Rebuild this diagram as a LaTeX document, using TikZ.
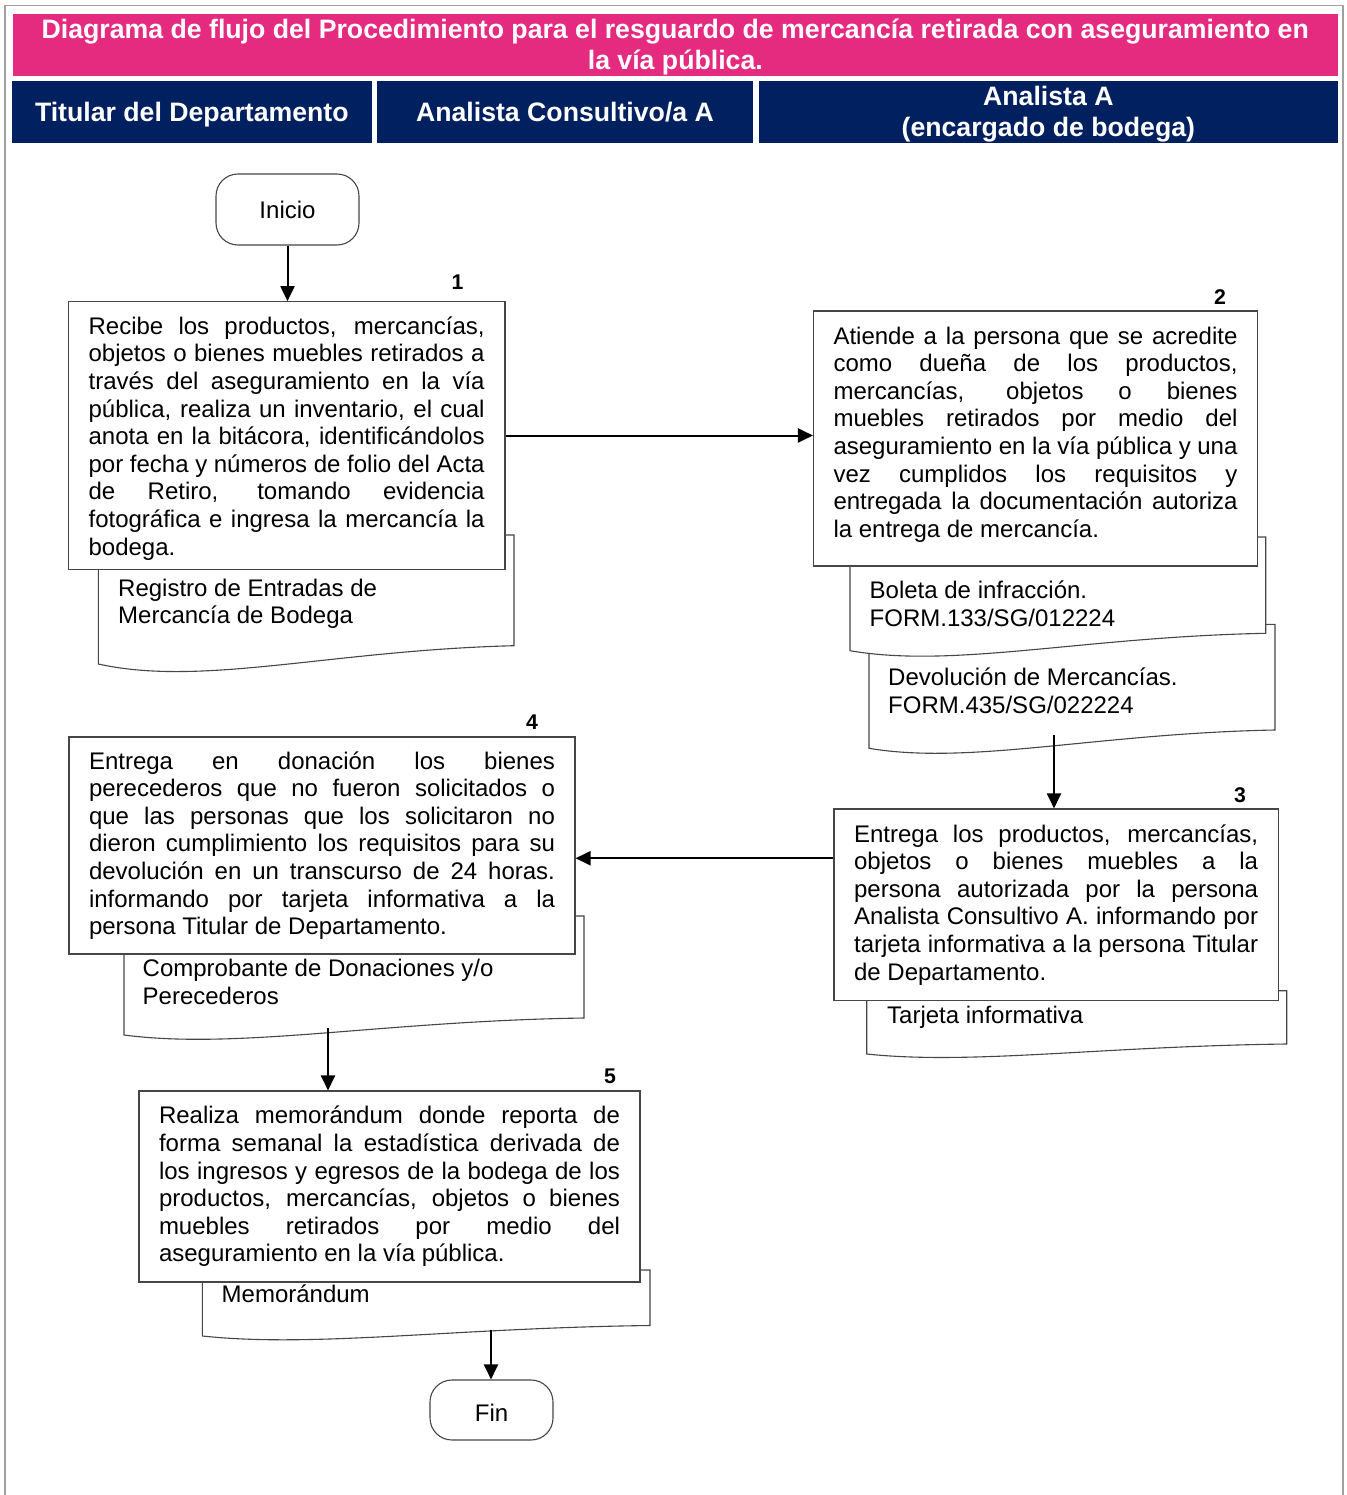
\documentclass[tikz,border=0pt]{standalone}
\usepackage{fontspec}
\setmainfont{Liberation Sans}
\usetikzlibrary{arrows.meta}
\definecolor{titlepink}{RGB}{229,43,128}
\definecolor{lanenavy}{RGB}{0,32,96}
\definecolor{framegray}{RGB}{160,160,160}
\definecolor{edgegray}{RGB}{70,70,70}
\newcommand{\bodyfont}{\fontsize{24}{27.6}\selectfont}
\newcommand{\headfont}{\fontsize{26.67}{30.7}\selectfont\bfseries}
\newcommand{\numfont}{\fontsize{21.3}{24.5}\selectfont\bfseries}
\tolerance=10000
\hyphenpenalty=10000
\exhyphenpenalty=10000
\hbadness=10000
% document symbol: x0, top, x1, right bottom, left bottom, dip of the wave
\newcommand{\docshape}[6]{%
  \filldraw[docline] (#1,#2) -- (#3,#2) -- (#3,#4)
    .. controls ({#1+0.56*(#3-#1)},{#4+0.6*#6}) and ({#1+0.25*(#3-#1)},{#5+3*#6}) .. (#1,#5) -- cycle;}
\begin{document}
\begin{tikzpicture}[x=1pt,y=-1pt,
  stepbox/.style={draw=edgegray, line width=1.1pt, fill=white, rectangle,
    inner xsep=20pt, inner ysep=0pt, align=justify, font=\bodyfont},
  doctext/.style={anchor=north west, inner sep=0pt, align=left, font=\bodyfont},
  docline/.style={draw=edgegray, line width=1.1pt, fill=white},
  terminal/.style={draw=edgegray, line width=1.1pt, fill=white, rectangle,
    rounded corners=22pt, inner sep=0pt, font=\bodyfont},
  numlabel/.style={inner sep=0pt, font=\numfont},
  titlebar/.style={fill=titlepink, inner sep=0pt},
  lanehead/.style={fill=lanenavy, inner sep=0pt},
  headtext/.style={text=white, inner sep=0pt, align=center, font=\headfont},
  flow/.style={line width=2pt, -{Triangle[length=15pt,width=14pt]}}
]
\useasboundingbox (0,0) rectangle (1346,1495);

% outer frame
\draw[framegray, line width=1.6pt] (4.8,1495) -- (4.8,5.6) -- (1343.2,5.6) -- (1343.2,1495);

% title and swimlane headers
\node[titlebar, minimum width=1325pt, minimum height=62pt] (title) at (675.3,45) {};
\node[headtext, anchor=north] (titletext) at (675.3,17)
  {\strut Diagrama de flujo del Procedimiento para el resguardo de mercancía retirada con aseguramiento en\\la vía pública.};
\node[lanehead, minimum width=359.7pt, minimum height=61.7pt] (lane1) at (191.85,111.85) {};
\node[lanehead, minimum width=376pt, minimum height=61.7pt] (lane2) at (565,111.85) {};
\node[lanehead, minimum width=578.7pt, minimum height=61.7pt] (lane3) at (1048.35,111.85) {};
\node[headtext, anchor=base] (lane1text) at (191.85,121.5) {Titular del Departamento};
\node[headtext, anchor=base] (lane2text) at (565,121.5) {Analista Consultivo/a A};
\node[headtext, anchor=north] (lane3text) at (1048.35,84) {\strut Analista A\\(encargado de bodega)};

% documents behind the process boxes
\docshape{98.3}{535}{514}{645.7}{664}{7.7}
\docshape{869}{624.3}{1275}{730}{748.3}{5.7}
\docshape{850}{537}{1265.7}{633.3}{650.7}{6}
\docshape{866.7}{990.7}{1286.7}{1044}{1054}{3.7}
\docshape{124}{916}{584}{1018}{1035}{5}
\docshape{202.4}{1270}{650}{1325.5}{1336}{4}

% terminals
\node[terminal, minimum width=143pt, minimum height=71pt] (inicio) at (287.5,209.5) {Inicio};
\node[terminal, minimum width=123pt, minimum height=60pt, text height=23pt, text depth=0pt] (fin) at (491.5,1410) {Fin};

% process steps
\node[stepbox, minimum width=436.7pt, minimum height=267.6pt, text width=396pt] (box1) at (286.6,435.5)
  {\rule{0pt}{23.5pt}Recibe los productos, mercancías,\linebreak
   objetos o bienes muebles retirados a\linebreak
   través del aseguramiento en la vía\linebreak
   pública, realiza un inventario, el cual\linebreak
   anota en la bitácora, identificándolos\linebreak
   por fecha y números de folio del Acta\linebreak
   de Retiro, tomando evidencia\linebreak
   fotográfica e ingresa la mercancía la\linebreak
   bodega.};
\node[stepbox, minimum width=443pt, minimum height=255pt, text width=404pt] (box2) at (1035.5,438.5)
  {Atiende a la persona que se acredite\linebreak
   como dueña de los productos,\linebreak
   mercancías, objetos o bienes\linebreak
   muebles retirados por medio del\linebreak
   aseguramiento en la vía pública y una\linebreak
   vez cumplidos los requisitos y\linebreak
   entregada la documentación autoriza\linebreak
   la entrega de mercancía.\rule[-13pt]{0pt}{0pt}};
\node[stepbox, minimum width=444.3pt, minimum height=191.5pt, text width=404pt] (box3) at (1056.1,904.75)
  {Entrega los productos, mercancías,\linebreak
   objetos o bienes muebles a la\linebreak
   persona autorizada por la persona\linebreak
   Analista Consultivo A. informando por\linebreak
   tarjeta informativa a la persona Titular\linebreak
   de Departamento.};
\node[stepbox, minimum width=506pt, minimum height=217pt, text width=466pt] (box4) at (322,845.5)
  {Entrega en donación los bienes\linebreak
   perecederos que no fueron solicitados o\linebreak
   que las personas que los solicitaron no\linebreak
   dieron cumplimiento los requisitos para su\linebreak
   devolución en un transcurso de 24 horas.\linebreak
   informando por tarjeta informativa a la\linebreak
   persona Titular de Departamento.};
\node[stepbox, minimum width=501pt, minimum height=191pt, text width=461pt] (box5) at (389.5,1186.5)
  {Realiza memorándum donde reporta de\linebreak
   forma semanal la estadística derivada de\linebreak
   los ingresos y egresos de la bodega de los\linebreak
   productos, mercancías, objetos o bienes\linebreak
   muebles retirados por medio del\linebreak
   aseguramiento en la vía pública.};

% document captions
\node[doctext] (doc1) at (118,576.7) {\strut Registro de Entradas de\\Mercancía de Bodega};
\node[doctext] (doc2a) at (869.5,579) {\strut Boleta de infracción.\\FORM.133/SG/012224};
\node[doctext] (doc2b) at (888,666.2) {\strut Devolución de Mercancías.\\FORM.435/SG/022224};
\node[doctext] (doc3) at (887,1003.7) {\strut Tarjeta informativa};
\node[doctext] (doc4) at (142.5,957) {\strut Comprobante de Donaciones y/o\\Perecederos};
\node[doctext] (doc5) at (221.5,1283.2) {\strut Memorándum};

% step numbers
\node[numlabel] (n1) at (457.5,282) {1};
\node[numlabel] (n2) at (1220,297.5) {2};
\node[numlabel] (n3) at (1240,795) {3};
\node[numlabel] (n4) at (532,722) {4};
\node[numlabel] (n5) at (610,1076) {5};

% outgoing points on the document edges
\coordinate (d2bout) at (1054,735);
\coordinate (d4out) at (328,1028);
\coordinate (d5out) at (491,1330);

% connectors
\draw[flow] (inicio.south) -- (inicio.south |- box1.north);
\draw[flow] (box1.east) -- (box1.east -| box2.west);
\draw[flow] (d2bout) -- (d2bout |- box3.north);
\draw[flow] ([yshift=46.5pt]box3.west) -- ([yshift=46.5pt]box3.west -| box4.east);
\draw[flow] (d4out) -- (d4out |- box5.north);
\draw[flow] (d5out) -- (d5out |- fin.north);
\end{tikzpicture}
\end{document}
